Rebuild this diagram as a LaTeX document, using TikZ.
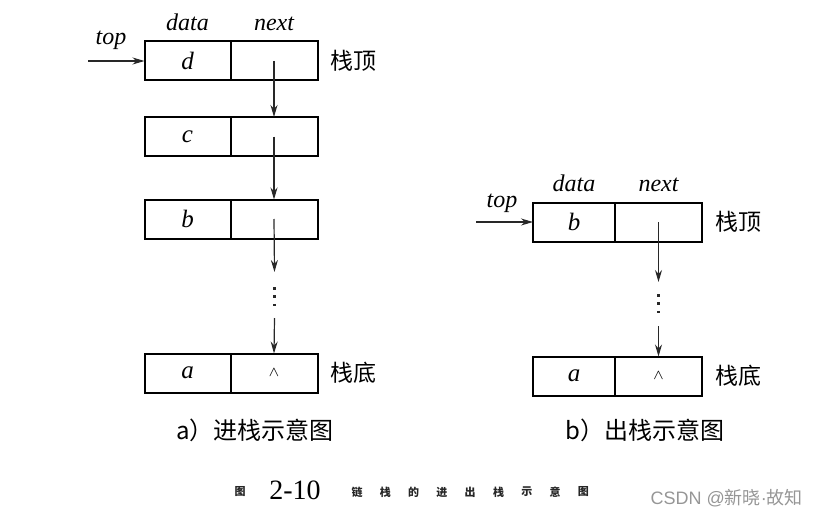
\documentclass[tikz,border=0pt]{standalone}
\usepackage{fontspec}
\setmainfont{Liberation Serif}
\newfontfamily\cjk{Noto Sans CJK SC}
\newfontfamily\marksans{Liberation Sans}
\usetikzlibrary{
  arrows.meta,
  positioning
}
\definecolor{LineGray}{RGB}{40, 40, 40}
\definecolor{MarkGray}{RGB}{150, 150, 150}
\tikzset{
  cell/.style={draw, line width=1pt, minimum width=43pt, minimum height=19.5pt,
    inner sep=0pt, outer sep=0pt, font=\fontsize{12.5}{14}\selectfont\itshape},
  nextcell/.style={cell, minimum width=43.5pt},
  field/.style={font=\fontsize{12}{14}\selectfont\itshape},
  link/.style={-{Stealth[length=6pt, width=3.5pt]}, line width=0.6pt, LineGray},
  gap/.style={line width=1.3pt, dash pattern=on 1.3pt off 2.9pt, LineGray},
  side/.style={font=\cjk\fontsize{11.5}{13}\selectfont},
  caption/.style={font=\cjk\fontsize{12}{14}\selectfont},
  tinycap/.style={font=\cjk\bfseries\fontsize{5.5}{6}\selectfont, text=black!85}
}

\begin{document}
\begin{tikzpicture}[x=0.5pt, y=-0.5pt]
\useasboundingbox (0,0) rectangle (823,519);

% a) push
\node[cell] (dD) at (187.5,61) {d};
\node[nextcell, right=0pt of dD] (nD) {};
\node[cell] (dC) at (187.5,136.5) {c};
\node[nextcell, right=0pt of dC] (nC) {};
\node[cell] (dB) at (187.5,219) {b};
\node[nextcell, right=0pt of dB] (nB) {};
\node[cell] (dA) at (187.5,373) {a};
\node[nextcell, right=0pt of dA] (nA) {\scriptsize$\wedge$};

\node[field, above=2pt of dD] (hdA) {data};
\node[field, above=2pt of nD] (hnA) {next};
\node[field] (topA) at (111,40) {top};
\coordinate (tA) at (88,61);
\draw[link] (tA) -- (dD.west);

\node[side, right=3pt of nD] (sTopA) {栈顶};
\node[side, right=3pt of nA] (sBotA) {栈底};

\draw[link] (nD.center) -- (nC.north);
\draw[link] (nC.center) -- (nB.north);
\coordinate (gA1) at (274.5,272);
\coordinate (gA2) at (274.5,287);
\coordinate (gA3) at (274.5,307);
\coordinate (gA4) at (274.5,318);
\draw[link] (nB.center) -- (gA1);
\draw[gap] (gA2) -- (gA3);
\draw[link] (gA4) -- (nA.north);

\node[caption] (capA) at (255,430) {a）进栈示意图};

% b) pop
\node[cell, minimum width=41pt] (dB2) at (574,222) {b};
\node[nextcell, right=0pt of dB2] (nB2) {};
\node[cell, minimum width=41pt] (dA2) at (574,376) {a};
\node[nextcell, right=0pt of dA2] (nA2) {\scriptsize$\wedge$};

\node[field, above=2pt of dB2] (hdB) {data};
\node[field, above=2pt of nB2] (hnB) {next};
\node[field] (topB) at (502,203) {top};
\coordinate (tB) at (476,222);
\draw[link] (tB) -- (dB2.west);

\node[side, right=3pt of nB2] (sTopB) {栈顶};
\node[side, right=3pt of nA2] (sBotB) {栈底};

\coordinate (gB1) at (658.5,282);
\coordinate (gB2) at (658.5,294);
\coordinate (gB3) at (658.5,314);
\coordinate (gB4) at (658.5,326);
\draw[link] (nB2.center) -- (gB1);
\draw[gap] (gB2) -- (gB3);
\draw[link] (gB4) -- (nA2.north);

\node[caption] (capB) at (645,430) {b）出栈示意图};

% figure title
\node[tinycap] (figT) at (240,492) {图};
\node[font=\fontsize{14}{16}\selectfont] (figN) at (295,490) {2-10};
\foreach \c [count=\i] in {链,栈,的,进,出,栈,示,意,图}
  \node[tinycap] (figC\i) at ({357+28.3*(\i-1)},492) {\c};

\node[font=\cjk\fontsize{9}{11}\selectfont, text=MarkGray, anchor=east] (mark) at (810,498) {{\marksans CSDN @}新晓{\marksans\textperiodcentered}故知};
\end{tikzpicture}
\end{document}
